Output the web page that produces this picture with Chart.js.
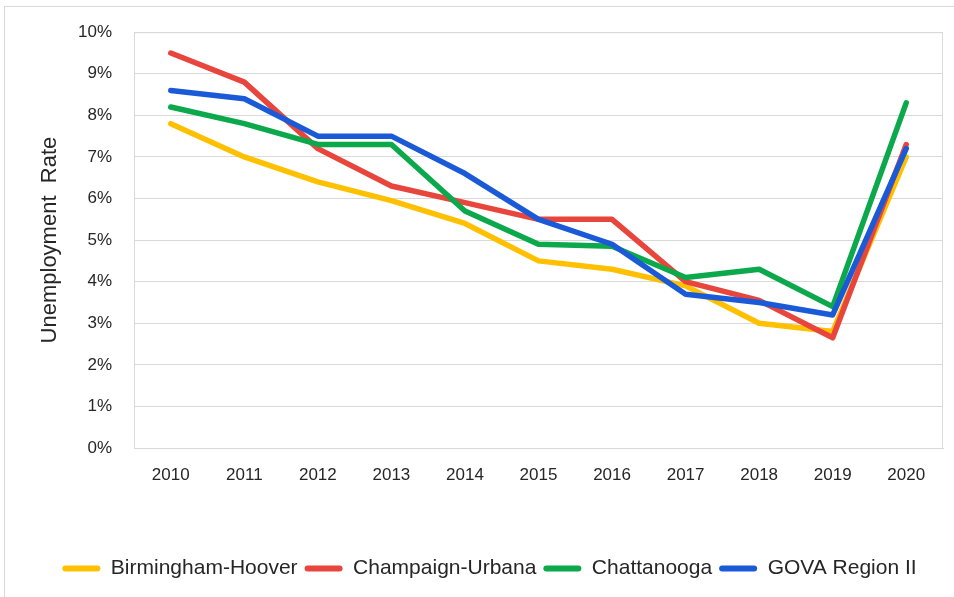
<!DOCTYPE html>
<html>
<head>
<meta charset="utf-8">
<script src="https://cdn.jsdelivr.net/npm/chart.js@4.4.1/dist/chart.umd.min.js"></script>
<style>
  html, body { margin: 0; padding: 0; background: #ffffff; }
  #wrap { position: relative; width: 954px; height: 597px; overflow: hidden; }
  #frame { position: absolute; left: 4px; top: 6px; width: 960px; height: 600px; border-left: 1px solid #d9d9d9; border-top: 1px solid #d9d9d9; }
  canvas { position: absolute; left: 0; top: 0; }
</style>
</head>
<body>
<div id="wrap">
  <div id="frame"></div>
  <canvas id="myChart" width="954" height="597"></canvas>
</div>
<script>
// years on the x axis
var years = ['2010','2011','2012','2013','2014','2015','2016','2017','2018','2019','2020'];

// unemployment rate, percent
var birmingham = [7.8, 7.0, 6.4, 5.95, 5.4, 4.5, 4.3, 3.9, 3.0, 2.8, 7.0];
var champaign  = [9.5, 8.8, 7.2, 6.3, 5.9, 5.5, 5.5, 4.0, 3.55, 2.65, 7.3];
var chattanooga = [8.2, 7.8, 7.3, 7.3, 5.7, 4.9, 4.85, 4.1, 4.3, 3.4, 8.3];
var gova = [8.6, 8.4, 7.5, 7.5, 6.6, 5.5, 4.9, 3.7, 3.5, 3.2, 7.2];

var seriesNames = ['Birmingham-Hoover', 'Champaign-Urbana', 'Chattanooga', 'GOVA Region II'];
var seriesColors = ['#FFC000', '#E8453C', '#0BA84C', '#1A5AD7'];

var FONT = '"Liberation Sans", Arial, sans-serif';

function line(i, values, order) {
  return {
    label: seriesNames[i],
    data: values,
    borderColor: seriesColors[i],
    backgroundColor: seriesColors[i],
    borderWidth: 5.5,
    tension: 0,
    pointRadius: 0,
    borderJoinStyle: 'round',
    borderCapStyle: 'round',
    fill: false,
    order: order
  };
}

// outline round the plot area
var plotBox = {
  id: 'plotBox',
  beforeDatasetsDraw: function (chart) {
    var a = chart.chartArea, ctx = chart.ctx;
    ctx.save();
    ctx.strokeStyle = '#d9d9d9';
    ctx.lineWidth = 1;
    ctx.strokeRect(a.left + 0.5, a.top + 0.5, a.right - a.left - 1, a.bottom - a.top);
    ctx.restore();
  }
};

var ctx = document.getElementById('myChart').getContext('2d');
var myChart = new Chart(ctx, {
  type: 'line',
  data: {
    labels: years,
    datasets: [
      line(0, birmingham, 4),
      line(1, champaign, 3),
      line(2, chattanooga, 2),
      line(3, gova, 1)
    ]
  },
  plugins: [plotBox],
  options: {
    responsive: false,
    animation: false,
    layout: { padding: { top: 32, right: 11, bottom: 8, left: 36 } },
    plugins: {
      tooltip: { enabled: false },
      legend: {
        position: 'bottom',
        labels: {
          font: { family: FONT, size: 21 },
          color: '#262626',
          boxWidth: 38,
          boxHeight: 6,
          padding: 7,
          useBorderRadius: true,
          borderRadius: 3,
          sort: function (a, b) { return a.datasetIndex - b.datasetIndex; },
          generateLabels: function (chart) {
            var items = Chart.defaults.plugins.legend.labels.generateLabels(chart);
            items.forEach(function (it) { it.lineWidth = 0; });
            return items;
          }
        }
      }
    },
    scales: {
      x: {
        offset: true,
        grid: { display: false, drawTicks: false },
        border: { color: '#d9d9d9' },
        ticks: { font: { family: FONT, size: 17 }, color: '#262626', padding: 17, maxRotation: 0 },
        afterFit: function (scale) { scale.height = 103; }
      },
      y: {
        min: 0,
        max: 10,
        grid: { color: '#d9d9d9', drawTicks: false },
        border: { color: '#d9d9d9' },
        ticks: {
          stepSize: 1,
          font: { family: FONT, size: 17 },
          color: '#262626',
          padding: 22,
          callback: function (v) { return v + '%'; }
        },
        title: {
          display: true,
          text: 'Unemployment  Rate',
          font: { family: FONT, size: 22 },
          color: '#262626',
          padding: { top: 1, bottom: 0 }
        },
        afterFit: function (scale) { scale.width = 98; }
      }
    }
  }
});
</script>
</body>
</html>
